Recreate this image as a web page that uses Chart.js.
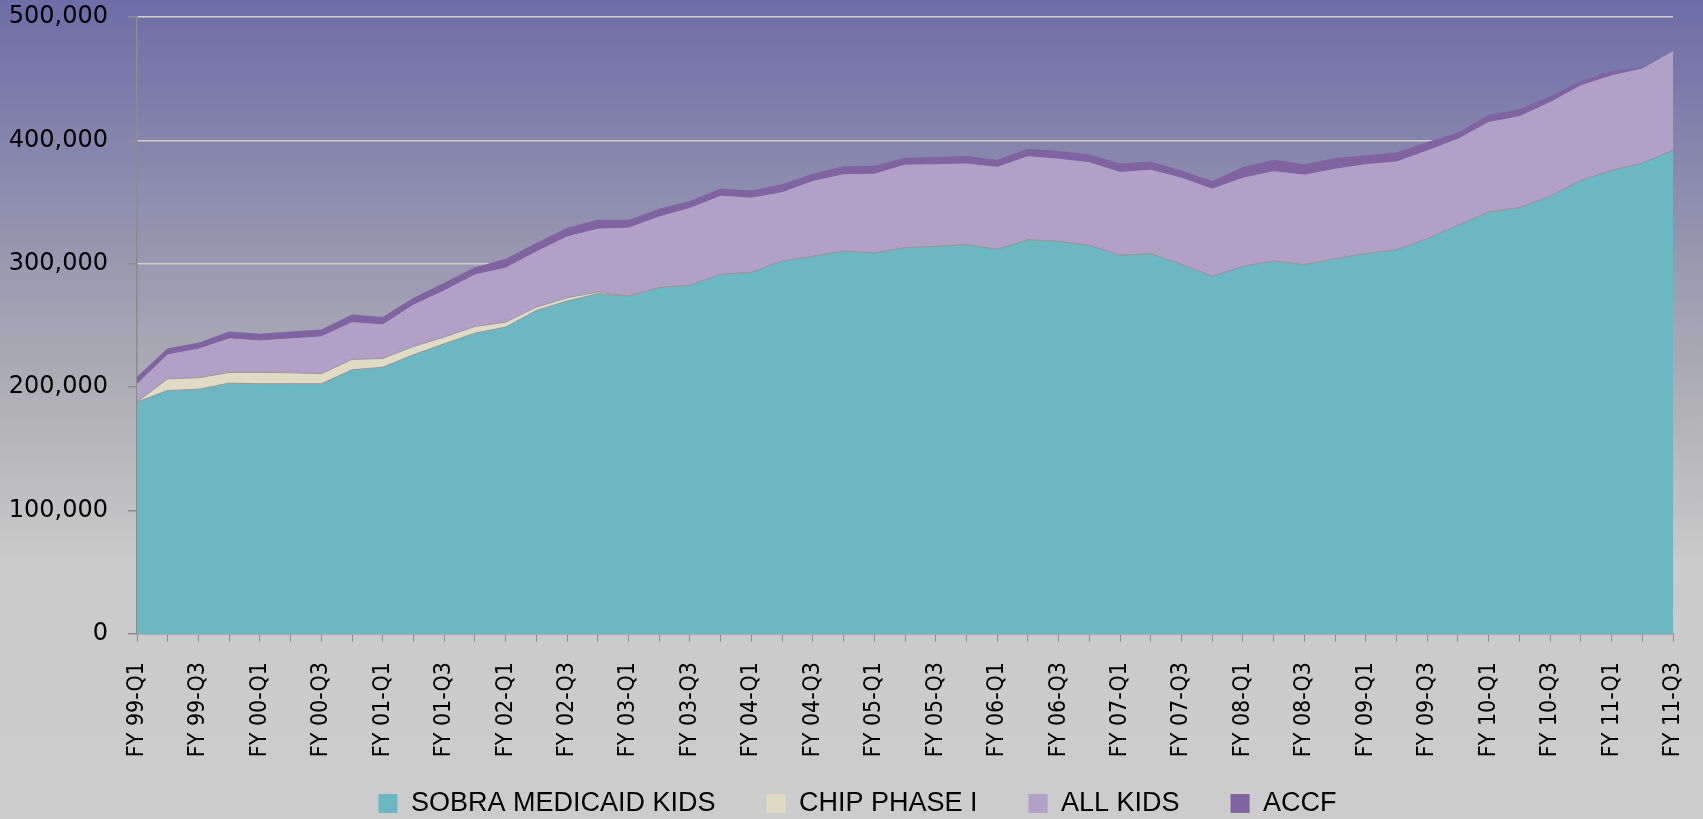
<!DOCTYPE html>
<html>
<head>
<meta charset="utf-8">
<title>Enrollment by program</title>
<script src="https://cdn.jsdelivr.net/npm/chart.js@4.4.1/dist/chart.umd.min.js"></script>
<style>
    html, body { margin: 0; padding: 0; background: #cccccc; }
    #wrap { width: 1703px; height: 819px; }
</style>
</head>
<body>
<div id="wrap"><canvas id="enrollChart" width="1703" height="819"></canvas></div>
<script>
// quarters, FY 99-Q1 .. FY 11-Q3
const quarters = [
    'FY 99-Q1', 'FY 99-Q2', 'FY 99-Q3', 'FY 99-Q4',
    'FY 00-Q1', 'FY 00-Q2', 'FY 00-Q3', 'FY 00-Q4',
    'FY 01-Q1', 'FY 01-Q2', 'FY 01-Q3', 'FY 01-Q4',
    'FY 02-Q1', 'FY 02-Q2', 'FY 02-Q3', 'FY 02-Q4',
    'FY 03-Q1', 'FY 03-Q2', 'FY 03-Q3', 'FY 03-Q4',
    'FY 04-Q1', 'FY 04-Q2', 'FY 04-Q3', 'FY 04-Q4',
    'FY 05-Q1', 'FY 05-Q2', 'FY 05-Q3', 'FY 05-Q4',
    'FY 06-Q1', 'FY 06-Q2', 'FY 06-Q3', 'FY 06-Q4',
    'FY 07-Q1', 'FY 07-Q2', 'FY 07-Q3', 'FY 07-Q4',
    'FY 08-Q1', 'FY 08-Q2', 'FY 08-Q3', 'FY 08-Q4',
    'FY 09-Q1', 'FY 09-Q2', 'FY 09-Q3', 'FY 09-Q4',
    'FY 10-Q1', 'FY 10-Q2', 'FY 10-Q3', 'FY 10-Q4',
    'FY 11-Q1', 'FY 11-Q2', 'FY 11-Q3'
];

const sobraKids = [
    188000, 197300, 198400, 203300, 202800, 202800, 202800, 214100,
    216200, 226300, 235200, 243800, 248700, 262200, 269800, 275800,
    273800, 280600, 282700, 291400, 293000, 302200, 306000, 310300,
    308700, 313000, 314100, 315500, 311700, 319500, 318200, 314900,
    306800, 308200, 299500, 289800, 297900, 302200, 299300, 304100,
    308200, 311400, 320300, 331100, 341900, 345500, 354600, 367600,
    375700, 381600, 391900
];

const chipPhase1 = [
    0, 9500, 9200, 8700, 9200, 8900, 8100, 8400,
    7100, 6700, 5400, 5400, 4000, 2700, 2700, 1300,
    0, 0, 0, 0, 0, 0, 0, 0,
    0, 0, 0, 0, 0, 0, 0, 0,
    0, 0, 0, 0, 0, 0, 0, 0,
    0, 0, 0, 0, 0, 0, 0, 0,
    0, 0, 0
];

const allKids = [
    14500, 19700, 23500, 27500, 25900, 27800, 30200, 30200,
    27600, 33800, 37800, 42200, 44100, 45100, 49700, 51300,
    55500, 57800, 62500, 63800, 60600, 55700, 61000, 62200,
    64300, 67300, 66500, 65700, 66700, 67600, 67000, 67300,
    67600, 68100, 70300, 71100, 71900, 72700, 72900, 73000,
    72400, 71400, 71600, 70300, 73000, 74000, 76500, 77000,
    77000, 76600, 80600
];

const accf = [
    6000, 5100, 5000, 5700, 5400, 5700, 5700, 6300,
    5900, 5700, 6300, 5900, 7000, 6800, 7100, 7300,
    6400, 6200, 5600, 5900, 5900, 6500, 6000, 6500,
    6500, 5700, 5900, 6100, 6000, 6200, 6200, 6500,
    6800, 6600, 5900, 6100, 8600, 9500, 8400, 8600,
    7300, 7300, 6800, 5100, 5700, 5700, 4600, 3500,
    3500, 1000, 0
];

const yTicks = [0, 100000, 200000, 300000, 400000, 500000];

const seriesNames = ['SOBRA MEDICAID KIDS', 'CHIP PHASE I', 'ALL KIDS', 'ACCF'];
const seriesColors = ['#6bb8c3', '#dfdbc5', '#b1a1c7', '#8064a2'];

// the x labels are a narrow face; use one if the box has it
function hasFont(name) {
    const c = document.createElement('canvas').getContext('2d');
    c.font = '40px monospace';
    const w0 = c.measureText('FY 99-Q1 ABC').width;
    c.font = '40px "' + name + '", monospace';
    return c.measureText('FY 99-Q1 ABC').width !== w0;
}
let xFont = { family: 'Liberation Sans', size: 22 };
if (hasFont('Liberation Sans Narrow')) xFont = { family: 'Liberation Sans Narrow', size: 27 };
else if (hasFont('DejaVu Sans Condensed')) xFont = { family: 'DejaVu Sans Condensed', size: 23 };

// gradient page background, purple at the top fading to grey
const bgPlugin = {
    id: 'bgGradient',
    beforeDraw(chart) {
        const c = chart.ctx;
        const g = c.createLinearGradient(0, 0, 0, chart.height);
        g.addColorStop(0, 'rgb(109,109,168)');
        g.addColorStop(0.49, 'rgb(176,176,181)');
        g.addColorStop(0.69, 'rgb(202,202,202)');
        g.addColorStop(1, 'rgb(204,204,204)');
        c.save();
        c.fillStyle = g;
        c.fillRect(0, 0, chart.width, chart.height);
        c.restore();
    }
};

// let the tick labels spill past their (squeezed) axis boxes without being clipped
const labelRoom = {
    id: 'labelRoom',
    afterLayout(chart) {
        chart.scales.x.bottom = chart.height;
        chart.scales.y.left = 0;
    }
};

function areaSet(i, data) {
    const edged = i < 2;
    return {
        label: seriesNames[i],
        data: data,
        backgroundColor: seriesColors[i],
        borderColor: edged ? 'rgba(150,150,150,0.9)' : seriesColors[i],
        borderWidth: edged ? 1 : 0,
        fill: i === 0 ? 'origin' : '-1',
        pointRadius: 0,
        tension: 0
    };
}

new Chart(document.getElementById('enrollChart'), {
    type: 'line',
    data: {
        labels: quarters,
        datasets: [
            areaSet(0, sobraKids),
            areaSet(1, chipPhase1),
            areaSet(2, allKids),
            areaSet(3, accf)
        ]
    },
    plugins: [bgPlugin, labelRoom],
    options: {
        responsive: false,
        animation: false,
        layout: { padding: { top: 17, right: 30, left: 42, bottom: -8 } },
        scales: {
            x: {
                stacked: true,
                offset: false,
                afterFit: function(axis) {
                    axis.height = 105;
                    axis.paddingLeft = 0;
                    axis.paddingRight = 0;
                },
                grid: { display: true, drawOnChartArea: false, drawTicks: true, tickLength: 8, color: '#8c8c8c' },
                border: { color: '#8c8c8c', width: 1.5 },
                ticks: {
                    autoSkip: false,
                    minRotation: 90,
                    maxRotation: 90,
                    padding: 20,
                    color: '#000',
                    font: xFont,
                    callback: function(val, idx) {
                        return idx % 2 === 0 ? quarters[idx] : '';
                    }
                }
            },
            y: {
                stacked: true,
                min: 0,
                max: 500000,
                afterFit: function(axis) {
                    axis.width = 95;
                    axis.paddingTop = 0;
                    axis.paddingBottom = 0;
                },
                afterBuildTicks: function(axis) {
                    axis.ticks = yTicks.map(v => ({ value: v }));
                },
                grid: { color: '#cfcfc6', lineWidth: 1.5, tickLength: 9, tickColor: '#8c8c8c' },
                border: { color: '#8c8c8c', width: 1.5 },
                ticks: {
                    padding: 20,
                    color: '#000',
                    font: { family: 'DejaVu Sans', size: 24 },
                    callback: v => v.toLocaleString('en-US')
                }
            }
        },
        plugins: {
            legend: {
                position: 'bottom',
                labels: {
                    color: '#000',
                    font: { family: 'Liberation Sans', size: 27 },
                    boxWidth: 19,
                    boxHeight: 19,
                    padding: 51,
                    generateLabels: function(chart) {
                        return seriesNames.map((name, i) => ({
                            text: name,
                            fillStyle: seriesColors[i],
                            strokeStyle: seriesColors[i],
                            lineWidth: 0,
                            hidden: false,
                            datasetIndex: i
                        }));
                    }
                }
            },
            tooltip: { enabled: false }
        }
    }
});
</script>
</body>
</html>
